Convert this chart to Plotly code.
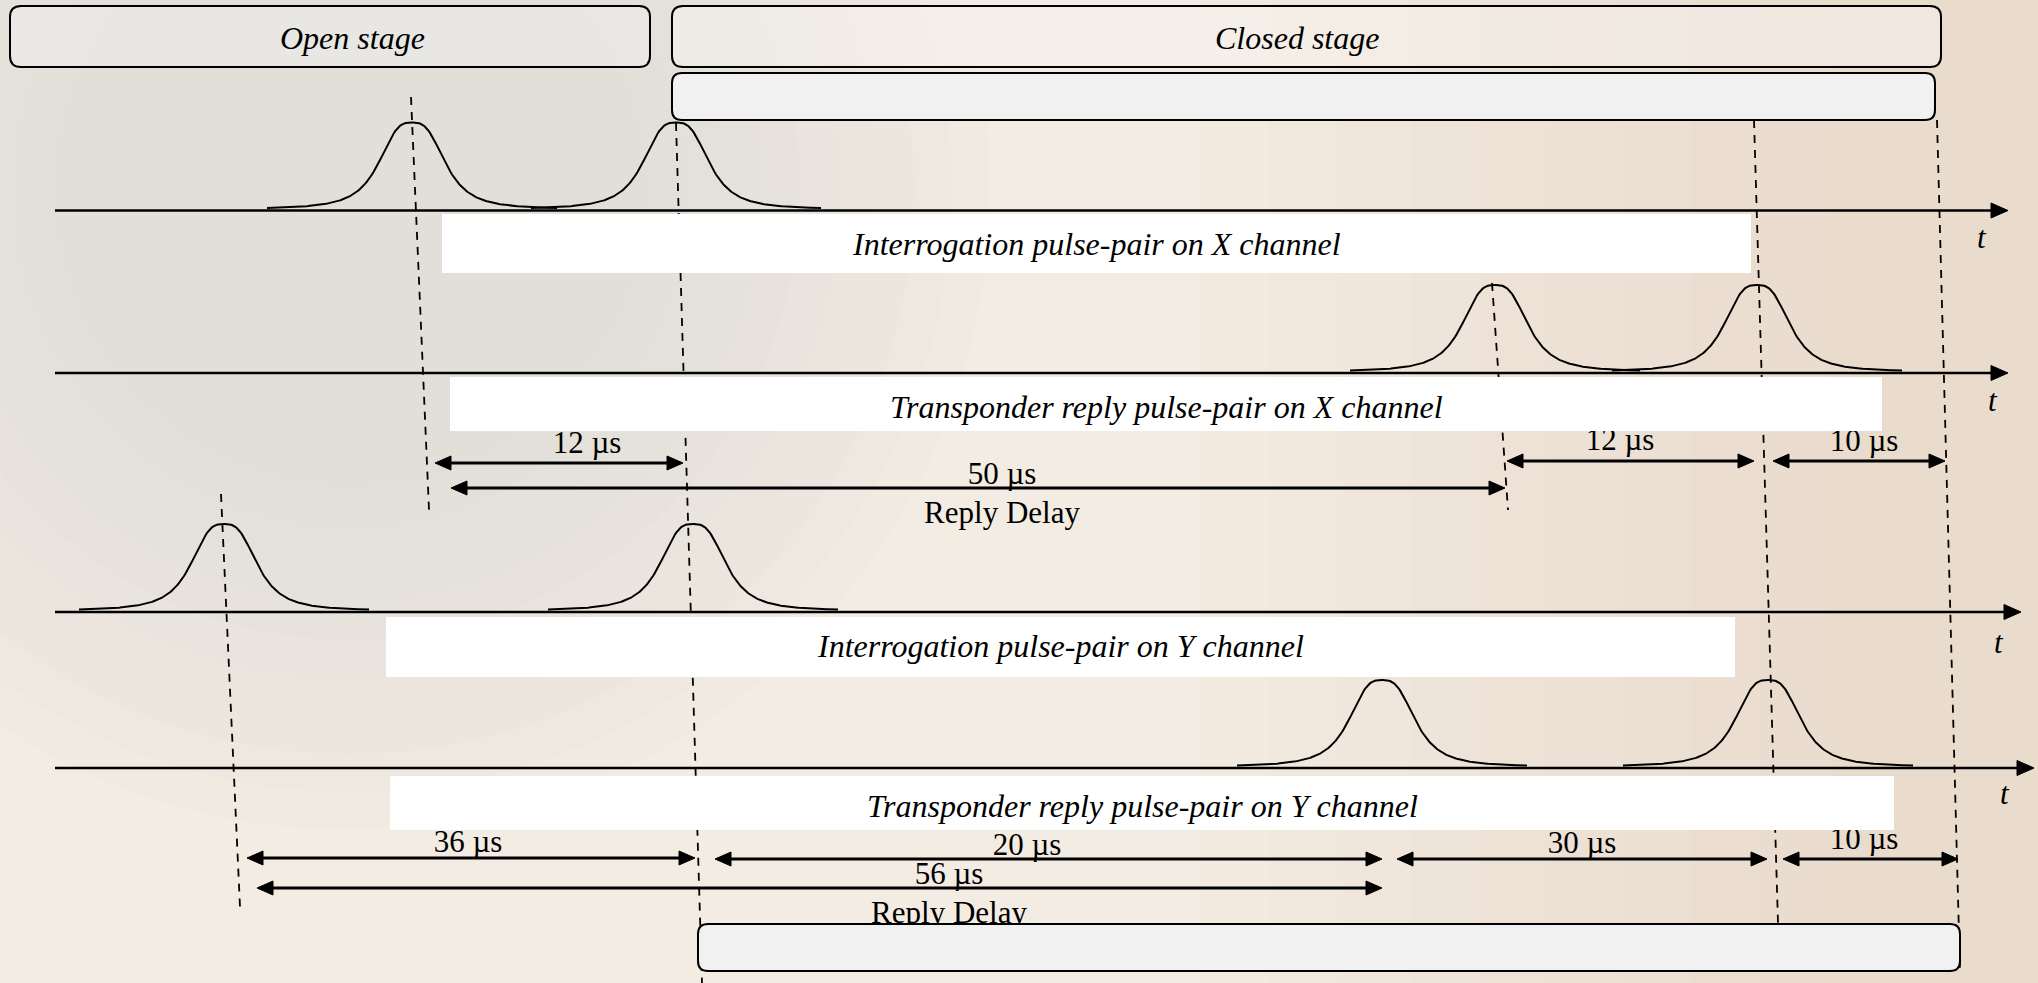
import numpy as np
import plotly.graph_objects as go

# ---------------- data ----------------
stage_labels = ["Open stage", "Closed stage"]
channel_labels = [
    "Interrogation pulse-pair on X channel",
    "Transponder reply pulse-pair on X channel",
    "Interrogation pulse-pair on Y channel",
    "Transponder reply pulse-pair on Y channel",
]
axis_label = "t"
# pulse centres on the (not-to-scale) diagram time axis, one pair per channel row
pulse_centres = [
    [412, 676],
    [1495, 1757],
    [224, 693],
    [1382, 1768],
]
# timing intervals (double-headed arrows) on the diagram time axis
interval_labels = ["12 µs", "50 µs", "12 µs", "10 µs", "36 µs", "20 µs", "30 µs", "10 µs", "56 µs"]
interval_start = [435, 451, 1507, 1773, 247, 715, 1397, 1783, 257]
interval_end = [683, 1505, 1754, 1945, 695, 1382, 1767, 1958, 1382]
interval_label_t = [587, 1002, 1620, 1864, 468, 1027, 1582, 1864, 949]
delay_label = "Reply Delay"
delay_label_t = [1002, 949]
# dashed alignment guides: diagram time at top / bottom of each guide
guide_top = [411, 676, 221, 1492, 1754, 1937]
guide_bottom = [429, 702, 240, 1508, 1778, 1960]

# ---------------- layout constants ----------------
W, H = 2038, 983
FONT = "Liberation Serif"
row_base = [210.5, 373, 612, 768]
row_end = [2008, 2008, 2021, 2034]
AX0 = 55
PULSE_H, PULSE_A, PULSE_SPAN, PULSE_P = 88, 35, 145, 3.0
label_box = [(442, 1751, 214, 273), (450, 1882, 377, 431), (386, 1735, 617, 677), (390, 1894, 776, 830)]
label_xy_y = [244, 407, 646, 806]
t_xy = [(1982, 237), (1993, 400), (1999, 642), (2005, 793)]
interval_y = [463, 488, 461, 461, 858, 859, 859, 859, 888]
label_dy = [-18, -12, -19, -18, -14, -12, -14, -18, -12]
delay_y = [515, 915]
guide_y = [(97, 510), (123, 983), (494, 907), (283, 510), (120, 923), (120, 971)]
stage_boxes = [(10, 650, 6, 67), (672, 1941, 6, 67)]
stage_text_xy = [(352, 38), (1297, 38)]
extra_boxes = [(672, 1935, 73, 120), (698, 1960, 924, 971)]

fig = go.Figure()


def add_line(xs, ys, width=2.5, dash=None):
    fig.add_trace(go.Scatter(x=xs, y=ys, mode="lines", hoverinfo="skip", showlegend=False,
                             line=dict(color="black", width=width, dash=dash)))


def add_tri(xs, ys):
    fig.add_trace(go.Scatter(x=xs, y=ys, mode="lines", fill="toself", fillcolor="black",
                             hoverinfo="skip", showlegend=False, line=dict(color="black", width=1)))


# time axes with arrow heads
for base, end in zip(row_base, row_end):
    add_line([AX0, end - 8], [base, base], width=2.5)
    add_tri([end, end - 17, end - 17, end], [base, base - 7.5, base + 7.5, base])

# pulses
px, py = [], []
for base, centres in zip(row_base, pulse_centres):
    for c in centres:
        xs = np.linspace(c - PULSE_SPAN, c + PULSE_SPAN, 291)
        u = np.abs((xs - c) / PULSE_A)
        ys = base - 1.2 - (PULSE_H - 1.2) / (1 + u ** PULSE_P)
        px += list(xs) + [None]
        py += list(ys) + [None]
fig.add_trace(go.Scatter(x=px, y=py, mode="lines", hoverinfo="skip", showlegend=False,
                         line=dict(color="black", width=2)))

# dashed guides
for xt, xb, (yt, yb) in zip(guide_top, guide_bottom, guide_y):
    add_line([xt, xb], [yt, yb], width=1.8, dash="8px,7px")

# interval arrows
L, HW = 16, 7
for s, e, y in zip(interval_start, interval_end, interval_y):
    add_line([s + 6, e - 6], [y, y], width=3)
    add_tri([s, s + L, s + L, s], [y, y - HW, y + HW, y])
    add_tri([e, e - L, e - L, e], [y, y - HW, y + HW, y])

# interval labels (drawn under the white label boxes, which clip them)
fig.add_trace(go.Scatter(
    x=interval_label_t + delay_label_t,
    y=[y + d for y, d in zip(interval_y, label_dy)] + delay_y,
    text=interval_labels + [delay_label, delay_label],
    mode="text", textposition="middle center", hoverinfo="skip", showlegend=False,
    textfont=dict(family=FONT, size=31, color="black")))


def rrect(x0, x1, y0, y1, r):
    return (f"M {x0 + r},{y0} L {x1 - r},{y0} Q {x1},{y0} {x1},{y0 + r} L {x1},{y1 - r} "
            f"Q {x1},{y1} {x1 - r},{y1} L {x0 + r},{y1} Q {x0},{y1} {x0},{y1 - r} "
            f"L {x0},{y0 + r} Q {x0},{y0} {x0 + r},{y0} Z")


shapes = []
# soft background decoration (impression of the faded compass photo)
for r in range(640, 260, -38):
    shapes.append(dict(type="circle", xref="x", yref="y", x0=350 - r, x1=350 + r, y0=190 - r, y1=190 + r,
                       fillcolor="rgba(200,200,203,0.04)", line=dict(width=0), layer="below"))
for x0 in range(1200, 1900, 70):
    shapes.append(dict(type="rect", xref="x", yref="y", x0=x0, x1=W, y0=0, y1=H,
                       fillcolor="rgba(225,203,170,0.03)", line=dict(width=0), layer="below"))

# white label boxes
for (x0, x1, y0, y1) in label_box:
    shapes.append(dict(type="rect", xref="x", yref="y", x0=x0, x1=x1, y0=y0, y1=y1,
                       fillcolor="white", line=dict(width=0), layer="above"))
# stage boxes
stage_fill = ["rgba(236,236,236,0.6)", "rgba(246,243,238,0.55)"]
for (x0, x1, y0, y1), fc in zip(stage_boxes, stage_fill):
    shapes.append(dict(type="path", xref="x", yref="y", path=rrect(x0, x1, y0, y1, 11),
                       fillcolor=fc, line=dict(color="black", width=2), layer="above"))
for (x0, x1, y0, y1) in extra_boxes:
    shapes.append(dict(type="path", xref="x", yref="y", path=rrect(x0, x1, y0, y1, 10),
                       fillcolor="#f1f1f1", line=dict(color="black", width=2), layer="above"))

annotations = []
for lab, (sx, sy) in zip(stage_labels, stage_text_xy):
    annotations.append(dict(x=sx, y=sy, xref="x", yref="y", text=f"<i>{lab}</i>",
                            showarrow=False, font=dict(family=FONT, size=32, color="black"),
                            xanchor="center", yanchor="middle"))
for lab, (x0, x1, y0, y1), yy in zip(channel_labels, label_box, label_xy_y):
    annotations.append(dict(x=(x0 + x1) / 2, y=yy, xref="x", yref="y", text=f"<i>{lab}</i>",
                            showarrow=False, font=dict(family=FONT, size=32, color="black"),
                            xanchor="center", yanchor="middle"))
for (tx, ty) in t_xy:
    annotations.append(dict(x=tx, y=ty, xref="x", yref="y", text=f"<i>{axis_label}</i>",
                            showarrow=False, font=dict(family=FONT, size=31, color="black"),
                            xanchor="center", yanchor="middle"))

fig.update_layout(
    width=W, height=H, margin=dict(l=0, r=0, t=0, b=0),
    paper_bgcolor="#f3ece2", plot_bgcolor="#f3ece2",
    xaxis=dict(range=[0, W], visible=False, fixedrange=True),
    yaxis=dict(range=[H, 0], visible=False, fixedrange=True),
    shapes=shapes, annotations=annotations, hovermode=False,
)

fig.write_html("out.html", config={"displayModeBar": False},
               post_script="document.body.style.margin='0';document.body.style.overflow='hidden';")
